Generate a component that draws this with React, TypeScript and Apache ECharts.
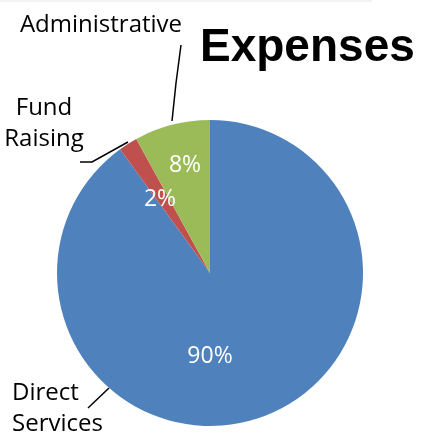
import React, { useEffect, useRef } from 'react';
import * as echarts from 'echarts';

const categories = ['Direct Services', 'Fund Raising', 'Administrative'];
const values = [90, 2, 8];
const colors = ['#4F81BD', '#C0504D', '#9BBB59'];
const outerLabels = ['Direct\nServices', 'Fund\nRaising', 'Administrative'];
const titleText = 'Expenses';

export default function App() {
  const ref = useRef<HTMLDivElement>(null);
  useEffect(() => {
    const chart = echarts.init(ref.current!, null, { renderer: 'svg' });
    const colored = categories.map((name, i) => ({ name, value: values[i], itemStyle: { color: colors[i] } }));
    const plain = categories.map((name, i) => ({ name, value: values[i] }));
    const innerPos = [[210, 354], [160, 197], [185, 163]];
    const outerLayout: any[] = [
      { x: 12, y: 406, align: 'left', lines: [[109, 388], [109, 388], [88, 408]] },
      { x: 44, y: 121, align: 'center', lines: [[128, 142], [92, 162], [80, 162]] },
      { x: 101, y: 22, align: 'center', lines: [[172, 121], [176, 83], [181, 45]] },
    ];
    const common = {
      type: 'pie',
      center: [210, 273],
      radius: 153,
      startAngle: 90,
      clockwise: true,
      avoidLabelOverlap: false,
      silent: true,
      emphasis: { disabled: true },
    };
    chart.setOption({
      animation: false,
      title: {
        text: titleText,
        left: 200,
        top: 22,
        padding: 0,
        textStyle: { fontFamily: 'Liberation Sans', fontWeight: 'bold', fontSize: 46, color: '#000' },
      },
      graphic: [
        { type: 'rect', shape: { x: 0, y: 0, width: 372, height: 2 }, style: { fill: '#f3f3f3' } },
      ],
      series: [
        {
          ...common,
          data: colored,
          label: {
            show: true,
            position: 'inside',
            formatter: (p: any) => Math.round(p.percent) + '%',
            color: '#fff',
            fontSize: 23,
            fontFamily: 'Open Sans',
          },
          labelLine: { show: false },
          labelLayout: (p: any) => ({
            x: innerPos[p.dataIndex][0],
            y: innerPos[p.dataIndex][1],
            align: 'center',
            verticalAlign: 'middle',
          }),
        },
        {
          ...common,
          data: plain,
          itemStyle: { color: 'rgba(0,0,0,0)' },
          label: {
            show: true,
            position: 'outside',
            formatter: (p: any) => outerLabels[p.dataIndex],
            color: '#000',
            fontSize: 24,
            lineHeight: 31,
            fontFamily: 'Open Sans',
          },
          labelLine: { show: true, lineStyle: { color: '#000', width: 1.5 } },
          labelLayout: (p: any) => {
            const o = outerLayout[p.dataIndex];
            return { x: o.x, y: o.y, align: o.align, verticalAlign: 'middle', labelLinePoints: o.lines };
          },
        },
      ],
    });
    return () => chart.dispose();
  }, []);
  return <div ref={ref} style={{ position: 'fixed', left: 0, top: 0, width: 421, height: 439 }} />;
}
